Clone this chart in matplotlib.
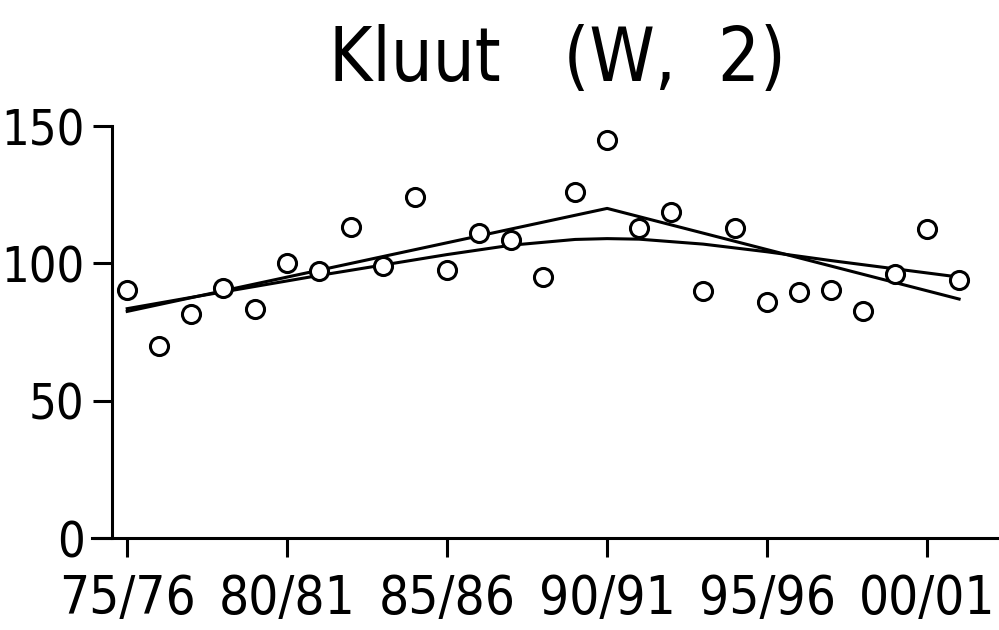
import numpy as np
import matplotlib
matplotlib.use('Agg')
from matplotlib import pyplot as plt

# winter counts, index values
years = np.arange(1975, 2002)
index = [90.3, 69.9, 81.5, 91.0, 83.4, 100.0, 97.2, 113.2, 99.0, 124.1,
         97.6, 111.0, 108.5, 95.0, 126.0, 144.9, 112.8, 118.7, 89.9, 112.8,
         85.9, 89.5, 90.3, 82.6, 96.1, 112.5, 93.9]

# broken-line trend (change point 90/91)
trend_x = [1975, 1990, 2001]
trend_y = [82.5, 120.0, 87.0]

# smooth trend
smooth_x = [1975, 1977, 1979, 1981, 1983, 1985, 1987, 1989, 1990, 1991,
            1993, 1995, 1997, 1999, 2001]
smooth_y = [83.5, 87.6, 91.6, 95.6, 99.4, 103.2, 106.6, 108.7, 109.0, 108.8,
            107.0, 104.2, 101.0, 98.0, 95.0]

tick_years = [1975, 1980, 1985, 1990, 1995, 2000]
tick_labels = ['75/76', '80/81', '85/86', '90/91', '95/96', '00/01']
y_ticks = [0, 50, 100, 150]

plt.rcParams['font.family'] = ['DejaVu Sans']
plt.rcParams['font.stretch'] = 'condensed'

fig = plt.figure(figsize=(9.99, 6.3), dpi=100)
ax = fig.add_axes([0.0921, 0.146, 0.908, 0.654])

ax.plot(trend_x, trend_y, color='black', lw=2.2)
ax.plot(smooth_x, smooth_y, color='black', lw=2.2)
ax.plot(years, index, 'o', mfc='white', mec='black', ms=13, mew=2.2)

ax.set_xlim(1973.9, 2002.25)
ax.set_ylim(0, 150)
ax.set_xticks(tick_years)
ax.set_xticklabels(tick_labels)
ax.set_yticks(y_ticks)

for s in ['top', 'right']:
    ax.spines[s].set_visible(False)
ax.spines['left'].set_position(('data', 1974.53))
ax.spines['left'].set_linewidth(2.2)
ax.spines['bottom'].set_linewidth(2.2)
ax.tick_params(axis='both', length=14, width=2.2, direction='out')
ax.tick_params(axis='y', pad=6, labelsize=35)
ax.tick_params(axis='x', pad=11, labelsize=38)

fig.text(0.558, 0.872, 'Kluut   (W,  2)', ha='center', va='baseline', fontsize=53)

fig.savefig('out.png', dpi=100)
